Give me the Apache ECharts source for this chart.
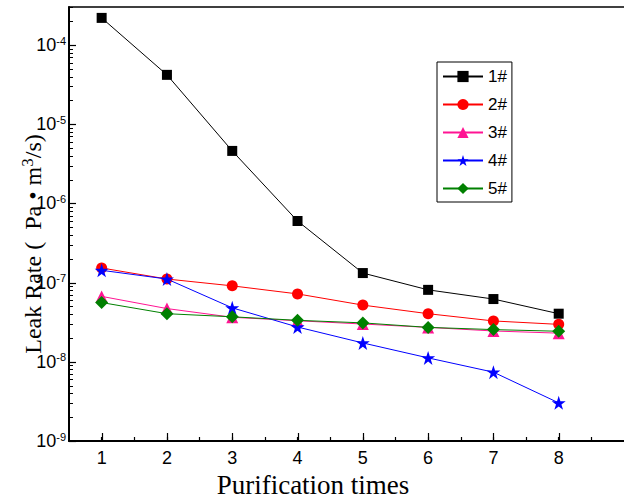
<!DOCTYPE html>
<html><head><meta charset="utf-8">
<script src="https://cdn.jsdelivr.net/npm/echarts@6/dist/echarts.min.js"></script>
<style>html,body{margin:0;padding:0;background:#fff}#c{width:624px;height:502px}</style>
</head><body><div id="c"></div>
<script>
// ---- data ----
const xValues = [1, 2, 3, 4, 5, 6, 7, 8];
const seriesNames = ['1#', '2#', '3#', '4#', '5#'];
const s1 = [2.2e-4, 4.2e-5, 4.6e-6, 6.0e-7, 1.32e-7, 8.1e-8, 6.2e-8, 4.05e-8];
const s2 = [1.53e-7, 1.11e-7, 9.1e-8, 7.2e-8, 5.2e-8, 4.05e-8, 3.28e-8, 2.97e-8];
const s3 = [6.7e-8, 4.7e-8, 3.65e-8, 3.3e-8, 3.0e-8, 2.72e-8, 2.45e-8, 2.3e-8];
const s4 = [1.43e-7, 1.11e-7, 4.8e-8, 2.75e-8, 1.73e-8, 1.12e-8, 7.4e-9, 3.03e-9];
const s5 = [5.6e-8, 4.05e-8, 3.7e-8, 3.34e-8, 3.1e-8, 2.72e-8, 2.55e-8, 2.43e-8];
const xTickLabels = ['1', '2', '3', '4', '5', '6', '7', '8'];
const yDecades = [-9, -8, -7, -6, -5, -4];
const yMinorMultipliers = [2, 3, 4, 5, 6, 7, 8, 9];
const xLabelText = 'Purification times';
const yLabelText = '{n|Leak Rate (  Pa \u2022 m}{sup|3}{n|/s)}';

const X_MIN = 0.5, X_MAX = 9, Y_MIN = 1e-9, Y_MAX = 3.02e-4;
const SANS = 'Liberation Sans, Arial, sans-serif';
const SERIF = 'Liberation Serif, Times New Roman, serif';
const STAR = 'path://M50,2 L61.8,37.6 L99,37.6 L68.9,59.6 L80.4,95 L50,73.1 L19.6,95 L31.1,59.6 L1,37.6 L38.2,37.6 Z';

const allSeries = [s1, s2, s3, s4, s5];
const colors = ['#000000', '#ff0000', '#ff1493', '#0000ff', '#008000'];
const symbols = ['rect', 'circle', 'triangle', STAR, 'diamond'];
const sizes = [10, 11, 12, 14, 13];

const chart = echarts.init(document.getElementById('c'), null, {renderer: 'svg'});

const lineSeries = allSeries.map((arr, k) => ({
  name: seriesNames[k],
  type: 'line',
  data: xValues.map((x, i) => [x, arr[i]]),
  symbol: symbols[k],
  symbolSize: sizes[k],
  color: colors[k],
  lineStyle: {color: colors[k], width: 1},
  itemStyle: {color: colors[k]},
  z: 3 + k
}));

const minorTickData = [];
yDecades.forEach(e => yMinorMultipliers.forEach(m => {
  const v = m * Math.pow(10, e);
  if (v < Y_MAX) minorTickData.push([X_MIN, v]);
}));

const xMajorTickSeries = {
  type: 'custom', silent: true, clip: false, z: 10,
  data: xValues.map(v => [v, Y_MIN]),
  renderItem: (params, api) => {
    const p = api.coord([api.value(0), Y_MIN]);
    const x = Math.round(p[0]) + 0.5;
    return {type: 'line', shape: {x1: x, y1: p[1], x2: x, y2: p[1] - 8}, style: {stroke: '#000', lineWidth: 1.2}};
  }
};
const yMajorTickSeries = {
  type: 'custom', silent: true, clip: false, z: 10,
  data: yDecades.map(e => [X_MIN, Math.pow(10, e)]),
  renderItem: (params, api) => {
    const p = api.coord([X_MIN, api.value(1)]);
    const y = Math.round(p[1]) + 0.5;
    return {type: 'line', shape: {x1: p[0], y1: y, x2: p[0] + 7, y2: y}, style: {stroke: '#000', lineWidth: 1.2}};
  }
};
const yMinorTickSeries = {
  type: 'custom', silent: true, clip: false, z: 10,
  data: minorTickData,
  renderItem: (params, api) => {
    const p = api.coord([X_MIN, api.value(1)]);
    const y = Math.round(p[1]) + 0.5;
    return {type: 'line', shape: {x1: p[0], y1: y, x2: p[0] + 4, y2: y}, style: {stroke: '#000', lineWidth: 1}};
  }
};

chart.setOption({
  animation: false,
  backgroundColor: '#fff',
  grid: {left: 69, right: 0, top: 7, bottom: 61, containLabel: false},
  xAxis: [{
    type: 'value', min: X_MIN, max: X_MAX, interval: 0.5,
    axisLine: {lineStyle: {color: '#000', width: 2}},
    axisTick: {inside: true, length: 4, lineStyle: {color: '#000', width: 1.2}},
    splitLine: {show: false},
    axisLabel: {
      margin: 8, color: '#000', fontFamily: SANS, fontSize: 18,
      showMaxLabel: false, showMinLabel: false,
      formatter: v => {
        const i = xValues.indexOf(v);
        return i >= 0 ? xTickLabels[i] : '';
      }
    }
  }, {
    type: 'value', position: 'top', min: X_MIN, max: X_MAX,
    axisLine: {lineStyle: {color: '#000', width: 1.5}},
    axisTick: {show: false}, axisLabel: {show: false}, splitLine: {show: false}
  }],
  yAxis: {
    type: 'log', logBase: 10, min: Y_MIN, max: Y_MAX,
    axisLine: {show: true, lineStyle: {color: '#000', width: 2}},
    axisTick: {show: false},
    splitLine: {show: false},
    axisLabel: {
      margin: 3, color: '#000', showMaxLabel: false, fontFamily: SANS, fontSize: 17,
      formatter: v => {
        const e = Math.round(Math.log10(v));
        if (Math.abs(Math.log10(v) - e) > 1e-6) return '';
        return '{b|10}{s|' + e + '}';
      },
      rich: {
        b: {fontFamily: SANS, fontSize: 18, lineHeight: 18, verticalAlign: 'bottom', color: '#000'},
        s: {fontFamily: SANS, fontSize: 11, lineHeight: 11, verticalAlign: 'bottom', padding: [0, 0, 8, 0], color: '#000'}
      }
    }
  },
  legend: {
    data: seriesNames,
    orient: 'vertical', left: 437, top: 62,
    borderColor: '#000', borderWidth: 1, borderRadius: 0,
    padding: [6, 5, 5, 5],
    itemWidth: 40, itemHeight: 14, itemGap: 11,
    textStyle: {fontFamily: SANS, fontSize: 17, color: '#000'}
  },
  graphic: [{
    type: 'text', x: 33, y: 244, rotation: Math.PI / 2,
    style: {
      text: yLabelText, align: 'center', verticalAlign: 'middle', fill: '#000',
      rich: {
        n: {fontFamily: SERIF, fontSize: 24, lineHeight: 24, verticalAlign: 'bottom', fill: '#000'},
        sup: {fontFamily: SERIF, fontSize: 17, lineHeight: 17, verticalAlign: 'bottom', padding: [0, 0, 9, 0], fill: '#000'}
      }
    }
  }, {
    type: 'text', x: 313, y: 485,
    style: {text: xLabelText, align: 'center', verticalAlign: 'middle', fontFamily: SERIF, fontSize: 27, fill: '#000'}
  }],
  series: lineSeries.concat([xMajorTickSeries, yMajorTickSeries, yMinorTickSeries])
});
</script>
</body></html>
